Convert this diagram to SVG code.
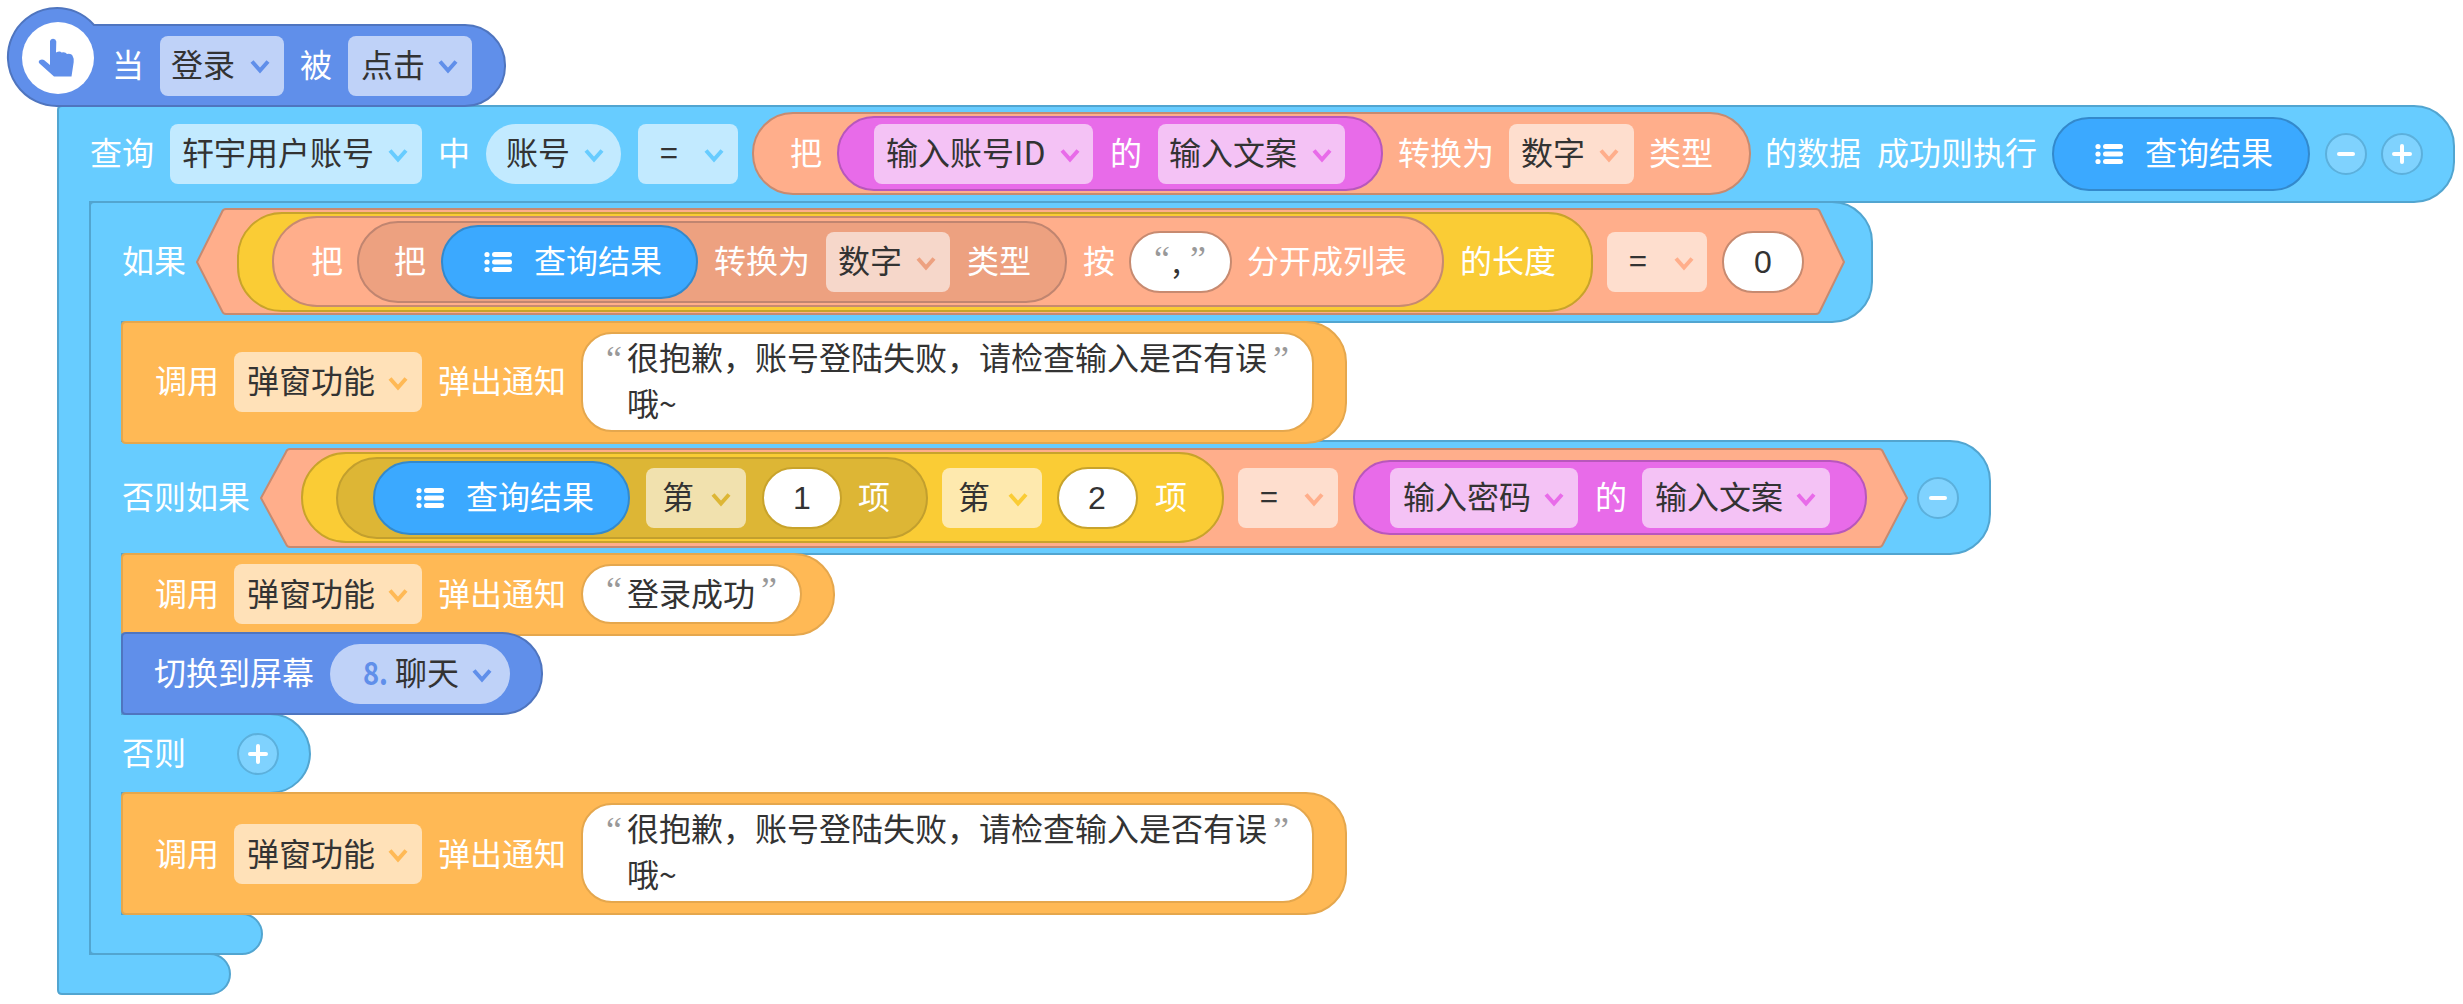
<svg xmlns="http://www.w3.org/2000/svg" width="2463" height="1004" viewBox="0 0 2463 1004">
<style>
text{font-family:"Noto Sans CJK SC","Noto Sans",sans-serif;font-size:32px}
.w{fill:#fff}.d{fill:#333}
.q{font-family:"Liberation Serif",serif;font-size:36px;fill:#999}
.n{font-weight:700;fill:#608fea}
.g{font-family:"Liberation Sans",sans-serif}
.main{fill:#67ccff;stroke:#52a5d0;stroke-width:2}
.ev{fill:#608fea;stroke:#4f75bf;stroke-width:2}
.call{fill:#ffb955;stroke:#e5a74d;stroke-width:2}
.sal{fill:#ffae8b;stroke:#c78a70;stroke-width:2}
.sald{fill:#eda180;stroke:#c08570;stroke-width:2}
.yel{fill:#facc35;stroke:#c8a32b;stroke-width:2}
.yeld{fill:#ddb635;stroke:#c29f2e;stroke-width:2}
.pink{fill:#e86be9;stroke:#b857bc;stroke-width:2}
.lst{fill:#3ba9ff;stroke:#3389cc;stroke-width:2}
.btn{fill:#7fd2fe;stroke:#5cb0dc;stroke-width:2}
.sb{fill:#fff;stroke:#e5a74d;stroke-width:2}
.ws{fill:#fff;stroke:#c78a70;stroke-width:2}
.wy{fill:#fff;stroke:#c8a32b;stroke-width:2}
.dblue{fill:#c2eaff}.dev{fill:#bfd2f8}.dsal{fill:#fedece}.dsald{fill:#f6d7ca}
.dpink{fill:#f4c2f5}.dcall{fill:#ffe1b8}.dyel{fill:#fee9ae}.dyeld{fill:#f1e1ae}
.cblue{stroke:#67ccff}.cev{stroke:#608fea}.csal{stroke:#ffae8b}.csald{stroke:#eda180}
.cpink{stroke:#e86be9}.ccall{stroke:#ffb955}.cyel{stroke:#facc35}.cyeld{stroke:#ddb635}
</style>
<defs>
<path id="chev" d="M-8-4.500 0 4.500 8-4.500" fill="none" stroke-width="4"/>
<g id="list" fill="#fff">
<circle cx="0" cy="-7.500" r="2.600"/><circle cx="0" cy="0" r="2.600"/><circle cx="0" cy="7.500" r="2.600"/>
<rect x="5" y="-10" width="20" height="5" rx="2.500"/><rect x="5" y="-2.500" width="20" height="5" rx="2.500"/><rect x="5" y="5" width="20" height="5" rx="2.500"/>
</g>
<path id="callbig" d="M126 0H1306a40 40 0 0 1 40 40V81a40 40 0 0 1-40 40H126q-4 0-4-4V4q0-4 4-4Z"/>
<rect id="sbox" x="582" y="0" width="731" height="98" rx="30"/>
</defs>

<g id="main-block">
<path class="main" d="M62 106H2414a40 40 0 0 1 40 40V162a40 40 0 0 1-40 40H90V954H210a20 20 0 0 1 20 20 20 20 0 0 1-20 20H62q-4 0-4-4V110q0-4 4-4Z"/>
<text class="w" x="90" y="165">查询</text>
<rect class="dblue" x="170" y="124" width="252" height="60" rx="8"/><text class="d" x="182" y="165">轩宇用户账号</text><use href="#chev" x="398" y="155" class="cblue"/>
<text class="w" x="438" y="165">中</text>
<rect class="dblue" x="486" y="124" width="135" height="60" rx="30"/><text class="d" x="506" y="165">账号</text><use href="#chev" x="594" y="155" class="cblue"/>
<rect class="dblue" x="638" y="124" width="100" height="60" rx="8"/><text class="d" x="660" y="165">=</text><use href="#chev" x="714" y="155" class="cblue"/>
<text class="w" x="1765" y="165">的数据</text><text class="w" x="1877" y="165">成功则执行</text>
<rect class="lst" x="2053" y="118" width="256" height="72" rx="36"/><use href="#list" x="2098" y="154"/><text class="w" x="2145" y="165">查询结果</text>
<ellipse class="btn" cx="2346" cy="154" rx="20" ry="20"/><rect x="2337" y="152" width="18" height="4" rx="2" fill="#fff"/>
<ellipse class="btn" cx="2402" cy="154" rx="20" ry="20"/><path d="M2402 146v16M2394 154h16" stroke="#fff" stroke-width="4" stroke-linecap="round"/>
</g>

<g id="query-value">
<rect class="sal" x="753" y="113" width="997" height="81" rx="40"/>
<text class="w" x="790" y="165">把</text>
<rect class="pink" x="838" y="117" width="544" height="73" rx="36"/>
<rect class="dpink" x="874" y="124" width="219" height="60" rx="8"/><text class="d" x="886" y="165">输入账号ID</text><use href="#chev" x="1070" y="155" class="cpink"/>
<text class="w" x="1110" y="165">的</text>
<rect class="dpink" x="1158" y="124" width="187" height="60" rx="8"/><text class="d" x="1169" y="165">输入文案</text><use href="#chev" x="1322" y="155" class="cpink"/>
<text class="w" x="1398" y="165">转换为</text>
<rect class="dsal" x="1509" y="124" width="125" height="60" rx="8"/><text class="d" x="1521" y="165">数字</text><use href="#chev" x="1609" y="155" class="csal"/>
<text class="w" x="1649" y="165">类型</text>
</g>

<g id="if-block">
<path class="main" d="M94 202H1832a40 40 0 0 1 40 40V282a40 40 0 0 1-40 40H122V441H1950a40 40 0 0 1 40 40V514a40 40 0 0 1-40 40H122V714H270a40 40 0 0 1 40 40 40 40 0 0 1-40 39H122V914H242a20 20 0 0 1 20 20 20 20 0 0 1-20 20H94q-4 0-4-4V206q0-4 4-4Z"/>
<text class="w" x="122" y="273">如果</text>
<text class="w" x="122" y="509">否则如果</text>
<text class="w" x="122" y="765">否则</text>
<ellipse class="btn" cx="258" cy="754" rx="20" ry="20"/><path d="M258 746v16M250 754h16" stroke="#fff" stroke-width="4" stroke-linecap="round"/>
<ellipse class="btn" cx="1938" cy="498" rx="20" ry="20"/><rect x="1929" y="496" width="18" height="4" rx="2" fill="#fff"/>
</g>

<g id="if-condition">
<path class="sal" d="M226 209H1816q3 0 4 3L1844 262 1820 311q-1 3-4 3H226q-3 0-4-3L197 262 222 212q1-3 4-3Z"/>
<rect class="yel" x="238" y="213" width="1354" height="98" rx="44"/>
<rect class="sal" x="273" y="217" width="1170" height="89" rx="44"/>
<text class="w" x="311" y="273">把</text>
<rect class="sald" x="358" y="222" width="708" height="80" rx="40"/>
<text class="w" x="394" y="273">把</text>
<rect class="lst" x="442" y="226" width="255" height="72" rx="36"/><use href="#list" x="487" y="262"/><text class="w" x="534" y="273">查询结果</text>
<text class="w" x="714" y="273">转换为</text>
<rect class="dsald" x="826" y="232" width="124" height="60" rx="8"/><text class="d" x="838" y="273">数字</text><use href="#chev" x="926" y="263" class="csald"/>
<text class="w" x="967" y="273">类型</text>
<text class="w" x="1083" y="273">按</text>
<rect class="ws" x="1130" y="232" width="101" height="60" rx="30"/>
<text class="q" x="1154" y="271">“</text><text class="d" x="1172" y="273">,</text><text class="q" x="1190" y="271">”</text>
<text class="w" x="1247" y="273">分开成列表</text>
<text class="w" x="1460" y="273">的长度</text>
<rect class="dsal" x="1607" y="232" width="100" height="60" rx="8"/><text class="d" x="1629" y="273">=</text><use href="#chev" x="1684" y="263" class="csal"/>
<rect class="ws" x="1723" y="232" width="80" height="60" rx="30"/><text class="d g" x="1763" y="273" text-anchor="middle">0</text>
</g>

<g id="call-1" transform="translate(0 322)">
<use href="#callbig" class="call"/>
<text class="w" x="155" y="71">调用</text>
<rect class="dcall" x="234" y="30" width="188" height="60" rx="8"/><text class="d" x="247" y="71">弹窗功能</text><use href="#chev" x="398" y="61" class="ccall"/>
<text class="w" x="438" y="71">弹出通知</text>
<use href="#sbox" y="11" class="sb"/>
<text class="q" x="606" y="49">“</text><text class="d" x="627" y="48">很抱歉，账号登陆失败，请检查输入是否有误</text><text class="q" x="1273" y="49">”</text>
<text class="d" x="627" y="94">哦~</text>
</g>

<g id="elseif-condition">
<path class="sal" d="M290 449H1879q3 0 4 3L1907 498 1883 544q-1 3-4 3H290q-3 0-4-3L261 498 286 452q1-3 4-3Z"/>
<rect class="yel" x="302" y="453" width="921" height="89" rx="44"/>
<rect class="yeld" x="337" y="458" width="590" height="80" rx="40"/>
<rect class="lst" x="374" y="462" width="255" height="72" rx="36"/><use href="#list" x="419" y="498"/><text class="w" x="466" y="509">查询结果</text>
<rect class="dyeld" x="646" y="468" width="100" height="60" rx="8"/><text class="d" x="662" y="509">第</text><use href="#chev" x="721" y="499" class="cyeld"/>
<rect class="wy" x="763" y="468" width="78" height="60" rx="30"/><text class="d g" x="802" y="509" text-anchor="middle">1</text>
<text class="w" x="858" y="509">项</text>
<rect class="dyel" x="942" y="468" width="100" height="60" rx="8"/><text class="d" x="958" y="509">第</text><use href="#chev" x="1018" y="499" class="cyel"/>
<rect class="wy" x="1058" y="468" width="79" height="60" rx="30"/><text class="d g" x="1097" y="509" text-anchor="middle">2</text>
<text class="w" x="1155" y="509">项</text>
<rect class="dsal" x="1238" y="468" width="100" height="60" rx="8"/><text class="d" x="1260" y="509">=</text><use href="#chev" x="1314" y="499" class="csal"/>
<rect class="pink" x="1354" y="461" width="512" height="73" rx="36"/>
<rect class="dpink" x="1390" y="468" width="188" height="60" rx="8"/><text class="d" x="1403" y="509">输入密码</text><use href="#chev" x="1554" y="499" class="cpink"/>
<text class="w" x="1595" y="509">的</text>
<rect class="dpink" x="1642" y="468" width="188" height="60" rx="8"/><text class="d" x="1655" y="509">输入文案</text><use href="#chev" x="1806" y="499" class="cpink"/>
</g>

<g id="call-2">
<path class="call" d="M126 554H794a40 40 0 0 1 40 40 40 40 0 0 1-40 41H126q-4 0-4-4V558q0-4 4-4Z"/>
<text class="w" x="155" y="606">调用</text>
<rect class="dcall" x="234" y="564" width="188" height="60" rx="8"/><text class="d" x="247" y="606">弹窗功能</text><use href="#chev" x="398" y="595" class="ccall"/>
<text class="w" x="438" y="606">弹出通知</text>
<rect class="sb" x="582" y="565" width="219" height="58" rx="29"/>
<text class="q" x="606" y="602">“</text><text class="d" x="627" y="606">登录成功</text><text class="q" x="761" y="602">”</text>
</g>

<g id="switch-screen">
<path class="ev" d="M126 633H502a40 40 0 0 1 40 40 40 40 0 0 1-40 41H126q-4 0-4-4V637q0-4 4-4Z"/>
<text class="w" x="154" y="685">切换到屏幕</text>
<rect class="dev" x="330" y="644" width="180" height="60" rx="30"/>
<text class="n" x="363" y="685" textLength="25" lengthAdjust="spacingAndGlyphs">8.</text><text class="d" x="395" y="685">聊天</text><use href="#chev" x="482" y="675" class="cev"/>
</g>

<g id="call-3" transform="translate(0 793)">
<use href="#callbig" class="call"/>
<text class="w" x="155" y="73">调用</text>
<rect class="dcall" x="234" y="31" width="188" height="60" rx="8"/><text class="d" x="247" y="73">弹窗功能</text><use href="#chev" x="398" y="62" class="ccall"/>
<text class="w" x="438" y="73">弹出通知</text>
<use href="#sbox" y="11" class="sb"/>
<text class="q" x="606" y="49">“</text><text class="d" x="627" y="48">很抱歉，账号登陆失败，请检查输入是否有误</text><text class="q" x="1273" y="49">”</text>
<text class="d" x="627" y="94">哦~</text>
</g>

<g id="hat-event">
<path class="ev" d="M94 25H465a40 40 0 0 1 40 40 40 40 0 0 1-40 41H58A49 49 0 1 1 94 25Z"/>
<circle cx="58" cy="58" r="36" fill="#fff"/>
<path fill="#608fea" d="M50 41.500a3.200 3.200 0 0 1 6.300 0L56 52.500q4-2 5.500 0 4-1 5.500 1.500 5-.8 6 3 1 1 .7 5L71.500 76.500H54L39.500 63.500q-1.800-2 .5-3.500 2-1 4 0l6 5Z"/>
<text class="w" x="112" y="77">当</text>
<rect class="dev" x="160" y="36" width="124" height="60" rx="8"/><text class="d" x="171" y="77">登录</text><use href="#chev" x="260" y="66" class="cev"/>
<text class="w" x="300" y="77">被</text>
<rect class="dev" x="348" y="36" width="124" height="60" rx="8"/><text class="d" x="361" y="77">点击</text><use href="#chev" x="448" y="66" class="cev"/>
</g>
</svg>
